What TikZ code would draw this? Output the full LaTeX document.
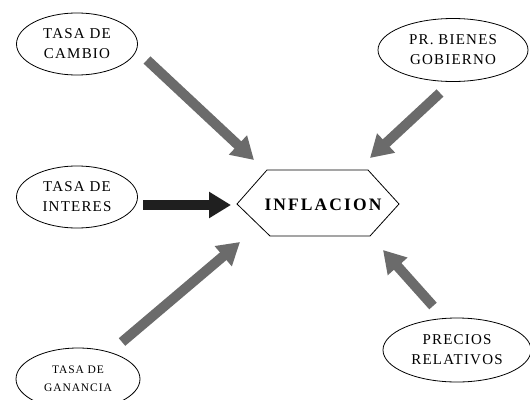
\documentclass[tikz,border=0pt]{standalone}
\usepackage{fontspec}
\setmainfont{Liberation Serif}
\newfontfamily\lbl[LetterSpace=8]{Liberation Serif}
\newfontfamily\lblwide[LetterSpace=12]{Liberation Serif}
\usetikzlibrary{arrows.meta,shapes.geometric}
\begin{document}
\begin{tikzpicture}[x=1pt,y=-1pt,
  oval/.style={draw=black,line width=0.8pt,ellipse,minimum width=121pt,minimum height=62pt,inner sep=0pt,
    font=\lbl\fontsize{15}{20}\selectfont,align=center},
  blockarrow/.style={line width=10pt,color=#1,-{Triangle[length=22pt,width=25pt]}},
  blockarrow/.default={black!58}]
\useasboundingbox (0,0) rectangle (530,399);
\fill[white] (0,0) rectangle (530,399);
% ellipses
\node[oval] (cambio) at (77,44) {TASA DE\\CAMBIO};
\node[oval,minimum width=150pt,minimum height=63pt] (bienes) at (453,50) {PR. BIENES\\GOBIERNO};
\node[oval] (interes) at (77,197) {TASA DE\\INTERES};
\node[oval,minimum width=124pt,font=\lbl\fontsize{11.5}{18}\selectfont] (ganancia) at (78,379) {TASA DE\\GANANCIA};
\node[oval,minimum width=148pt,minimum height=64pt] (precios) at (457,350) {PRECIOS\\RELATIVOS};
% hexagon
\coordinate (h1) at (237,204);
\coordinate (h2) at (267,170);
\coordinate (h3) at (368,170);
\coordinate (h4) at (399,204);
\coordinate (h5) at (370,236);
\coordinate (h6) at (270,236);
\draw[line width=0.8pt] (h1) -- (h2) -- (h3) -- (h4) -- (h5) -- (h6) -- cycle;
\node[font=\lblwide\bfseries\fontsize{17.5}{20}\selectfont] (infl) at (323,205) {INFLACION};
% arrow end points
\coordinate (t1) at (147,60);  \coordinate (p1) at (254,160);
\coordinate (t2) at (440,93);  \coordinate (p2) at (370,158);
\coordinate (t3) at (143,205); \coordinate (p3) at (231,205);
\coordinate (t4) at (122,342); \coordinate (p4) at (240,242);
\coordinate (t5) at (433,306); \coordinate (p5) at (383,250);
\draw[blockarrow] (t1) -- (p1);
\draw[blockarrow] (t2) -- (p2);
\draw[blockarrow=black!88] (t3) -- (p3);
\draw[blockarrow] (t4) -- (p4);
\draw[blockarrow] (t5) -- (p5);
\end{tikzpicture}
\end{document}
